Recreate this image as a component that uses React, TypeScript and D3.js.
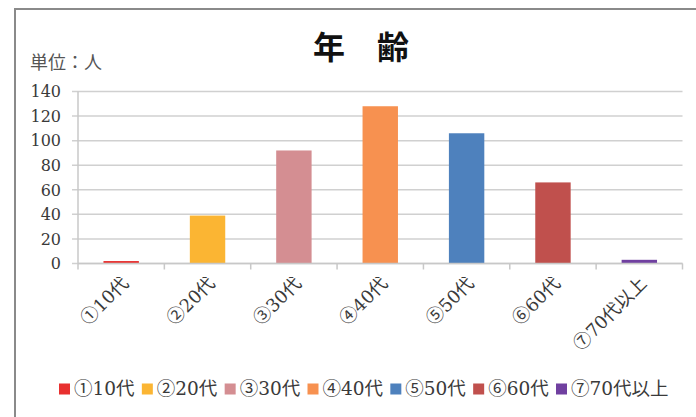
import React, { useEffect, useRef } from "react";
import * as d3 from "d3";

const categories = ["①10代", "②20代", "③30代", "④40代", "⑤50代", "⑥60代", "⑦70代以上"];
const values = [2, 39, 92, 128, 106, 66, 3];
const colors = ["#e8302f", "#fbb533", "#d48e92", "#f79150", "#4e81bd", "#c0504d", "#7040a0"];
const yTicks = [0, 20, 40, 60, 80, 100, 120, 140];
const title = "年　齢";
const unitLabel = "単位：人";

const W = 696, H = 417;
const serif = "DejaVu Serif, Noto Sans CJK JP, serif";

export default function App() {
  const ref = useRef<SVGSVGElement>(null);
  useEffect(() => {
    const svg = d3.select(ref.current);
    svg.selectAll("*").remove();

    const x = d3.scaleBand<string>().domain(categories).range([78, 682.5]).paddingInner(0.59).paddingOuter(0.295);
    const xb = d3.scaleBand<string>().domain(categories).range([78, 682.5]);
    const y = d3.scaleLinear().domain([0, 140]).range([263.5, 91.5]);

    svg.append("rect").attr("x", 0).attr("y", 0).attr("width", W).attr("height", H).attr("fill", "#fff");
    svg.append("rect").attr("x", 15).attr("y", 9).attr("width", 800).attr("height", 600)
      .attr("fill", "none").attr("stroke", "#8a8a8a").attr("stroke-width", 2);

    svg.append("g").selectAll("line").data(yTicks).join("line")
      .attr("x1", 72).attr("x2", 682.5)
      .attr("y1", d => y(d)).attr("y2", d => y(d))
      .attr("stroke", "#d0d0d0").attr("stroke-width", 1.5);

    svg.append("line").attr("x1", 78).attr("x2", 78).attr("y1", y(140)).attr("y2", y(0))
      .attr("stroke", "#c8c8c8").attr("stroke-width", 1.5);

    svg.append("g").selectAll("text").data(yTicks).join("text")
      .attr("x", 61).attr("y", d => y(d)).attr("dy", "0.36em")
      .attr("text-anchor", "end").attr("font-family", serif).attr("font-size", 16)
      .attr("fill", "#3a3a3a").text(d => String(d));

    svg.append("g").selectAll("rect").data(values).join("rect")
      .attr("x", (d, i) => x(categories[i])!)
      .attr("width", x.bandwidth())
      .attr("y", d => y(d))
      .attr("height", d => y(0) - y(d))
      .attr("fill", (d, i) => colors[i]);

    const tickPos = categories.map(c => xb(c)!).concat([682.5]);
    svg.append("g").selectAll("line").data(tickPos).join("line")
      .attr("x1", d => d).attr("x2", d => d).attr("y1", y(0)).attr("y2", y(0) + 6)
      .attr("stroke", "#c8c8c8").attr("stroke-width", 1.5);
    svg.append("line").attr("x1", 78).attr("x2", 682.5).attr("y1", y(0)).attr("y2", y(0))
      .attr("stroke", "#c8c8c8").attr("stroke-width", 1.5);

    svg.append("g").selectAll("text").data(categories).join("text")
      .attr("transform", d => `translate(${xb(d)! + xb.bandwidth() / 2 + 4},${280}) rotate(-45)`)
      .attr("text-anchor", "end").attr("dy", "0.35em")
      .attr("font-family", serif).attr("font-size", 18).attr("fill", "#3a3a3a")
      .text(d => d);

    svg.append("text").attr("x", 361).attr("y", 59).attr("text-anchor", "middle")
      .attr("font-family", "Noto Sans CJK JP, sans-serif").attr("font-weight", "bold")
      .attr("font-size", 32).attr("fill", "#111").text(title);

    svg.append("text").attr("x", 30).attr("y", 69)
      .attr("font-family", "Noto Sans CJK JP, sans-serif")
      .attr("font-size", 18).attr("fill", "#555").text(unitLabel);

    const lx = d3.scalePoint<string>().domain(categories).range([59, 556]);
    const lg = svg.append("g").selectAll("g").data(categories).join("g")
      .attr("transform", d => `translate(${lx(d)},389)`);
    lg.append("rect").attr("x", 0).attr("y", -5.5).attr("width", 11).attr("height", 11)
      .attr("fill", (d, i) => colors[i]);
    lg.append("text").attr("x", 15).attr("y", 0).attr("dy", "0.35em")
      .attr("font-family", serif).attr("font-size", 18.5).attr("fill", "#3a3a3a").text(d => d);
  }, []);

  return (
    <svg ref={ref} width={W} height={H}
      style={{ position: "absolute", left: 0, top: 0, display: "block" }} />
  );
}
